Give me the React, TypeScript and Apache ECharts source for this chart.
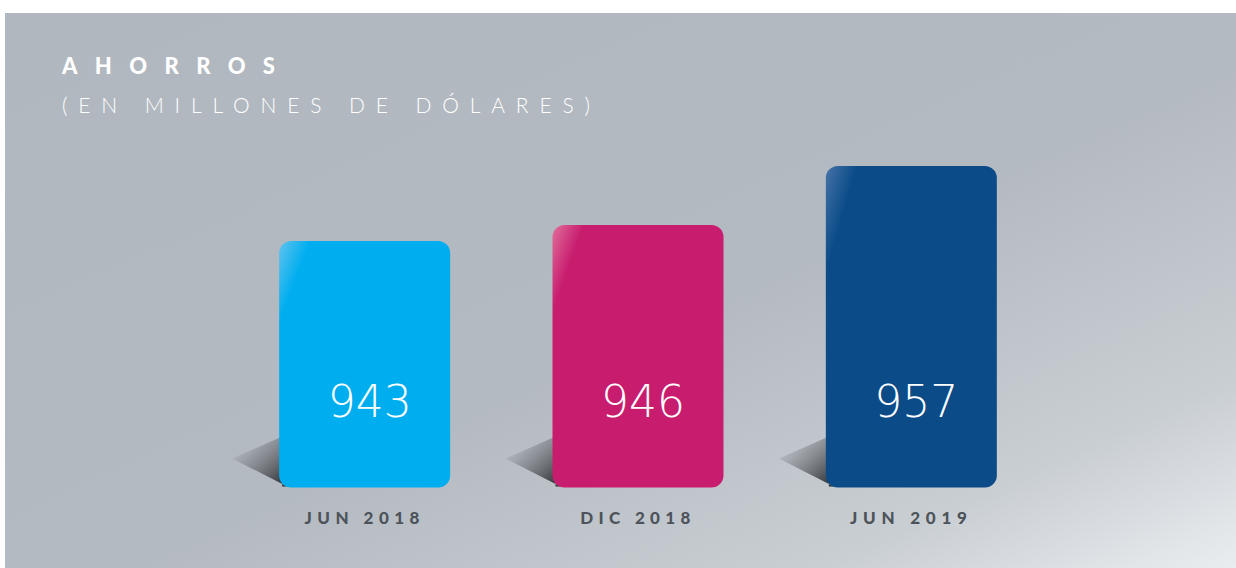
import React, { useEffect, useRef } from "react";
import * as echarts from "echarts";

// ---- data ----
const categories = ["JUN 2018", "DIC 2018", "JUN 2019"];
const values = [943, 946, 957];
const titleText = "AHORROS";
const subtitleText = "(EN MILLONES DE DÓLARES)";
const yMin = 897;
const yMax = 957;

// ---- styling ----
const barColors = ["#00aeef", "#c81d6f", "#0b4c88"];
const glossColors = ["#62c3ee", "#e06f9b", "#4673a8"];
const FONT = "Lato, 'Open Sans', sans-serif";
const NUM_FONT = "'DejaVu Sans ExtraLight', 'DejaVu Sans', sans-serif";
const BAR_W = 171;
// target rendered widths (px) used to emulate the letter spacing of the original
const spacingTargets: Record<string, number> = {
  [titleText]: 213,
  [subtitleText]: 528,
  "JUN 2018": 115,
  "DIC 2018": 110,
  "JUN 2019": 117,
};

export default function App() {
  const ref = useRef<HTMLDivElement>(null);

  useEffect(() => {
    const el = ref.current!;
    const chart = echarts.init(el, null, { renderer: "svg" });

    const applySpacing = () => {
      const texts = el.querySelectorAll("text");
      texts.forEach((t: any) => {
        const s = (t.textContent || "").trim();
        const target = spacingTargets[s];
        if (!target) return;
        t.removeAttribute("letter-spacing");
        const natural = t.getComputedTextLength();
        const sp = (target - natural) / (s.length - 1);
        if (sp <= 0) return;
        t.setAttribute("letter-spacing", sp.toFixed(2));
      });
    };
    chart.on("rendered", applySpacing);

    const option: any = {
      animation: false,
      backgroundColor: "#ffffff",
      grid: { left: 228, right: 188, top: 166, bottom: 80.5, containLabel: false },
      xAxis: {
        type: "category",
        data: categories,
        axisLine: { show: false },
        axisTick: { show: false },
        splitLine: { show: false },
        axisLabel: {
          color: "#4d535a",
          fontSize: 17,
          fontWeight: 900,
          fontFamily: FONT,
          margin: 21,
        },
      },
      yAxis: { type: "value", min: yMin, max: yMax, show: false },
      graphic: [
        {
          type: "rect",
          z: -10,
          silent: true,
          shape: { x: 5, y: 13, width: 1231, height: 555 },
          style: {
            fill: new echarts.graphic.LinearGradient(0, 0, 1, 1, [
              { offset: 0, color: "#b1b7be" },
              { offset: 0.55, color: "#b4bac1" },
              { offset: 0.83, color: "#c9ced3" },
              { offset: 1, color: "#eaedf0" },
            ]),
          },
        },
        {
          type: "text",
          z: 10,
          x: 62,
          y: 65,
          style: {
            text: titleText,
            fill: "#ffffff",
            font: `900 22px ${FONT}`,
            textAlign: "left",
            textVerticalAlign: "middle",
          },
        },
        {
          type: "text",
          z: 10,
          x: 62,
          y: 104.5,
          style: {
            text: subtitleText,
            fill: "#ffffff",
            font: `300 21px ${FONT}`,
            textAlign: "left",
            textVerticalAlign: "middle",
          },
        },
      ],
      series: [
        {
          type: "custom",
          z: 1,
          silent: true,
          data: values.map((v, i) => [i, v]),
          encode: { x: 0, y: 1 },
          renderItem: (params: any, api: any) => {
            const base = api.coord([api.value(0), yMin]);
            const left = base[0] - BAR_W / 2;
            const b = base[1];
            return {
              type: "polygon",
              shape: {
                points: [
                  [left + 3, b - 51],
                  [left - 47, b - 29],
                  [left + 8, b - 1],
                  [left + 3, b - 1],
                ],
              },
              style: {
                fill: new echarts.graphic.LinearGradient(0, 0, 1, 1, [
                  { offset: 0, color: "rgba(178,184,190,0)" },
                  { offset: 0.4, color: "rgba(125,129,135,0.6)" },
                  { offset: 1, color: "rgba(34,36,40,1)" },
                ]),
              },
            };
          },
        },
        {
          type: "bar",
          z: 2,
          barWidth: BAR_W,
          data: values.map((v, i) => ({
            value: v,
            itemStyle: {
              borderRadius: 12,
              color: new echarts.graphic.LinearGradient(0, 0, 1, 0.55, [
                { offset: 0, color: glossColors[i] },
                { offset: 0.14, color: barColors[i] },
                { offset: 1, color: barColors[i] },
              ]),
            },
          })),
          label: {
            show: true,
            position: "insideBottom",
            distance: 64,
            offset: [5, 0],
            color: "#ffffff",
            fontSize: 44,
            fontWeight: 200,
            fontFamily: NUM_FONT,
          },
        },
      ],
    };

    chart.setOption(option);
    applySpacing();
    const raf = requestAnimationFrame(applySpacing);
    const to = setTimeout(applySpacing, 50);

    return () => {
      cancelAnimationFrame(raf);
      clearTimeout(to);
      chart.dispose();
    };
  }, []);

  return (
    <div
      ref={ref}
      style={{ position: "fixed", left: 0, top: 0, width: 1236, height: 568 }}
    />
  );
}
